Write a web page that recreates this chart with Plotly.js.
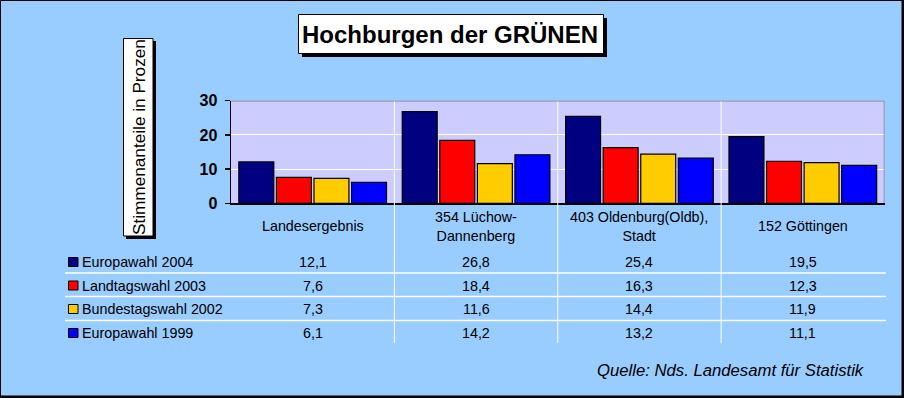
<!DOCTYPE html>
<html><head><meta charset="utf-8">
<script src="https://cdn.plot.ly/plotly-3.0.1.min.js"></script>
<style>html,body{margin:0;padding:0;background:#99CCFF}</style>
</head><body><div id="chart" style="width:904px;height:398px"></div>
<script>
const categories = ["Landesergebnis", "354 Lüchow-<br>Dannenberg", "403 Oldenburg(Oldb),<br>Stadt", "152 Göttingen"];
const seriesNames = ["Europawahl 2004", "Landtagswahl 2003", "Bundestagswahl 2002", "Europawahl 1999"];
const europawahl2004 = [12.1, 26.8, 25.4, 19.5];
const landtagswahl2003 = [7.6, 18.4, 16.3, 12.3];
const bundestagswahl2002 = [7.3, 11.6, 14.4, 11.9];
const europawahl1999 = [6.1, 14.2, 13.2, 11.1];
const seriesColors = ["#000080", "#FF0000", "#FFCC00", "#0000FF"];
const yTickValues = [0, 10, 20, 30];
const chartTitle = "Hochburgen der GRÜNEN";
const yTitle = "Stimmenanteile in Prozen";
const sourceNote = "Quelle: Nds. Landesamt für Statistik";

const W = 904, H = 398;
const px = v => v / W;
const py = v => 1 - v / H;
const FONT = "Liberation Sans, Arial, sans-serif";
const allSeries = [europawahl2004, landtagswahl2003, bundestagswahl2002, europawahl1999];
const xIdx = categories.map((_, i) => i);

const traces = allSeries.map((vals, s) => ({
  type: "bar", name: seriesNames[s], x: xIdx, y: vals,
  marker: {color: seriesColors[s], line: {color: "#000000", width: 1.2}},
  hoverinfo: "skip"
}));

const rowY = [262, 285.5, 309, 333];
const shapes = [];
const annotations = [];

// outer border
shapes.push({type: "rect", xref: "paper", yref: "paper", x0: px(0.5), x1: px(902), y0: py(0.5), y1: py(396), line: {color: "#000", width: 1}});
shapes.push({type: "line", xref: "paper", yref: "paper", x0: px(903), x1: px(903), y0: 0, y1: 1, line: {color: "#000", width: 2}});
shapes.push({type: "line", xref: "paper", yref: "paper", x0: 0, x1: 1, y0: py(397), y1: py(397), line: {color: "#000", width: 2}});

// title box + shadow
shapes.push({type: "rect", xref: "paper", yref: "paper", x0: px(302), x1: px(607), y0: py(18), y1: py(57), fillcolor: "#000", line: {width: 0}});
shapes.push({type: "rect", xref: "paper", yref: "paper", x0: px(298.5), x1: px(603.5), y0: py(14.5), y1: py(53.5), fillcolor: "#fff", line: {color: "#000", width: 1}});
// y title box + shadow
shapes.push({type: "rect", xref: "paper", yref: "paper", x0: px(126), x1: px(156), y0: py(41), y1: py(239), fillcolor: "#000", line: {width: 0}});
shapes.push({type: "rect", xref: "paper", yref: "paper", x0: px(123.5), x1: px(153), y0: py(38.5), y1: py(236), fillcolor: "#fff", line: {color: "#000", width: 1}});

// plot top / right grey border
shapes.push({type: "line", xref: "x", yref: "y", x0: -0.5, x1: 3.5, y0: 30, y1: 30, line: {color: "#808080", width: 1.5}});
shapes.push({type: "line", xref: "x", yref: "y", x0: 3.5, x1: 3.5, y0: 0, y1: 30, line: {color: "#808080", width: 1.5}});

// category dividers (through plot and table)
for (let i = 0; i < categories.length - 1; i++) {
  shapes.push({type: "line", xref: "x", yref: "paper", x0: i + 0.5, x1: i + 0.5, y0: py(343), y1: py(101.5), line: {color: "#ffffff", width: 1}});
}
// table row separators
[273, 296.5, 320.5].forEach(y => {
  shapes.push({type: "line", xref: "paper", yref: "paper", x0: px(65), x1: px(886), y0: py(y), y1: py(y), line: {color: "#ffffff", width: 1.5}});
});

// legend keys, row labels, values
seriesNames.forEach((name, s) => {
  shapes.push({type: "rect", xref: "paper", yref: "paper", x0: px(68.5), x1: px(78), y0: py(rowY[s] - 4.5), y1: py(rowY[s] + 4.5), fillcolor: seriesColors[s], line: {color: "#000", width: 1}});
  annotations.push({xref: "paper", yref: "paper", x: px(80), y: py(rowY[s]), xanchor: "left", yanchor: "middle", text: name, showarrow: false, font: {family: FONT, size: 14.3, color: "#000"}});
  allSeries[s].forEach((v, i) => {
    annotations.push({xref: "x", yref: "paper", x: i, y: py(rowY[s]), xanchor: "center", yanchor: "middle", text: v.toFixed(1).replace(".", ","), showarrow: false, font: {family: FONT, size: 14.3, color: "#000"}});
  });
});

// category labels
categories.forEach((c, i) => {
  annotations.push({xref: "x", yref: "paper", x: i, y: py(226), xanchor: "center", yanchor: "middle", text: c, showarrow: false, font: {family: FONT, size: 14.3, color: "#000"}});
});

// title
annotations.push({xref: "paper", yref: "paper", x: px(450), y: py(34), xanchor: "center", yanchor: "middle", text: chartTitle, showarrow: false, font: {family: FONT, size: 24, color: "#000", weight: "bold"}});
// y title
annotations.push({xref: "paper", yref: "paper", x: px(138.5), y: py(137.5), xanchor: "center", yanchor: "middle", textangle: -90, text: yTitle, showarrow: false, font: {family: FONT, size: 17.2, color: "#000"}});
// source
annotations.push({xref: "paper", yref: "paper", x: px(867), y: py(370), xanchor: "right", yanchor: "middle", text: "<i>" + sourceNote + "</i>", showarrow: false, font: {family: FONT, size: 16.7, color: "#000"}});

const layout = {
  width: W, height: H,
  margin: {l: 0, r: 0, t: 0, b: 0, pad: 0},
  paper_bgcolor: "#99CCFF", plot_bgcolor: "#CCCCFF",
  showlegend: false,
  barmode: "group", bargap: 0.08, bargroupgap: 0.07,
  xaxis: {domain: [px(231), px(884.5)], range: [-0.5, 3.5], showticklabels: false, ticks: "", showgrid: false, zeroline: false,
          showline: true, linecolor: "#000", linewidth: 1.5, fixedrange: true},
  yaxis: {domain: [py(203.3), py(100.7)], range: [0, 30], tickvals: yTickValues, ticks: "outside", ticklen: 5, tickcolor: "#000", tickwidth: 1.5,
          showgrid: true, gridcolor: "#ffffff", gridwidth: 1, zeroline: false, showline: true, linecolor: "#000", linewidth: 1.5,
          tickfont: {family: FONT, size: 16, color: "#000", weight: "bold"}, ticklabelstandoff: 4, fixedrange: true},
  shapes: shapes,
  annotations: annotations
};

Plotly.newPlot("chart", traces, layout, {displayModeBar: false, staticPlot: true});
</script>
</body></html>
